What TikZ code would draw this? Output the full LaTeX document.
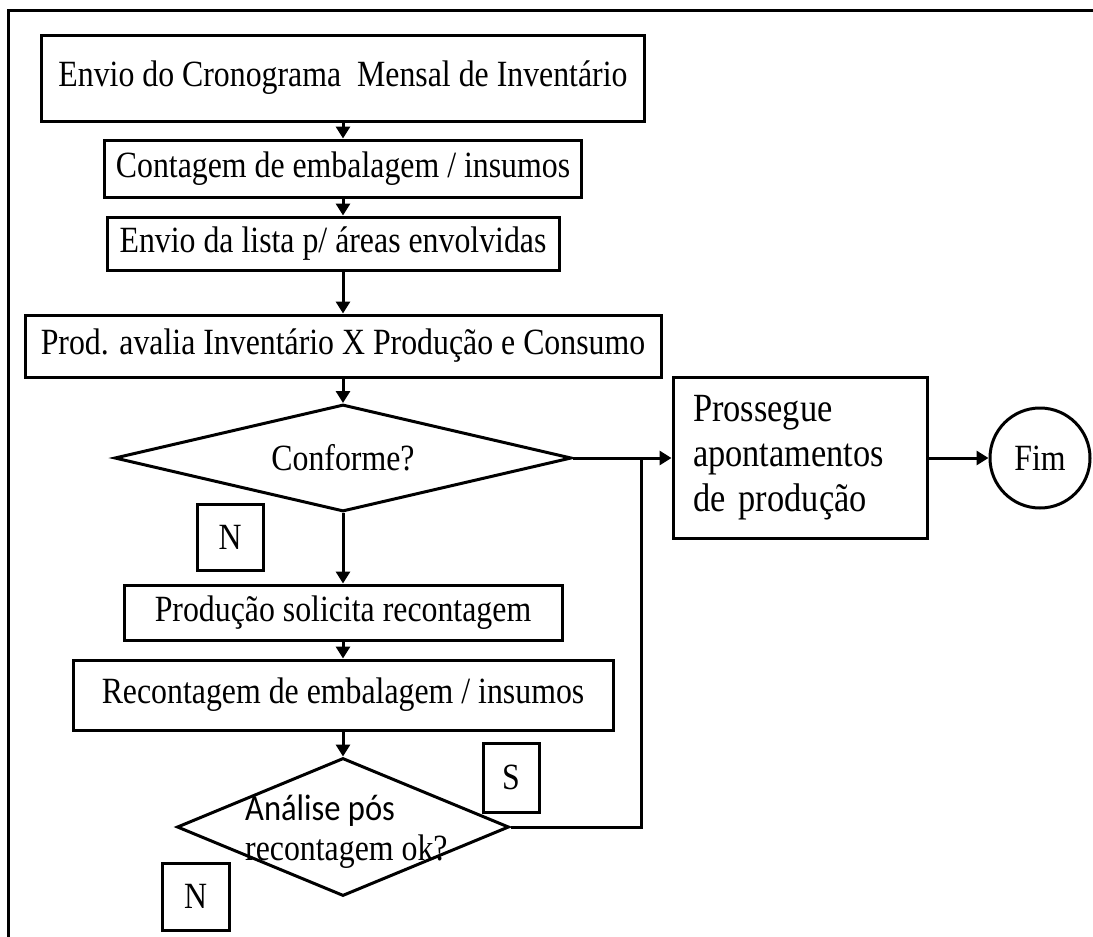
\documentclass[tikz,border=0pt]{standalone}
\usepackage{fontspec}
\setmainfont{Liberation Serif}[FakeStretch=0.86]
\newfontfamily\carlito{Carlito}[FakeStretch=0.88]
\usetikzlibrary{shapes.geometric, arrows.meta, positioning}

\begin{document}
\begin{tikzpicture}[x=1pt, y=-1pt,
	every node/.style={font=\fontsize{37}{40}\selectfont, inner sep=0pt},
	box/.style={draw, line width=3pt, rectangle},
	decision/.style={draw, line width=3pt, diamond},
	letra/.style={draw, line width=3pt, minimum width=66pt, minimum height=66pt},
	seta/.style={line width=3pt, -{Triangle[length=12pt, width=14pt]}}]
			\useasboundingbox (0,0) rectangle (1093,937);
			\draw[line width=3pt] (8,937) -- (8,10) -- (1093,10);
			% coluna principal
			\node[box, minimum width=603pt, minimum height=86pt] (env) at (343,78) {Envio do Cronograma~ Mensal de Inventário};
			\node[box, minimum width=477pt, minimum height=57pt] (cont) at (343,168.5) {Contagem de embalagem / insumos};
			\node[box, minimum width=452pt, minimum height=53pt] (lista) at (333,243.5) {Envio da lista p/ áreas envolvidas};
			\node[box, minimum width=636pt, minimum height=62pt] (aval) at (343,346) {Prod. avalia Inventário X Produção e Consumo};
			\node[decision, minimum width=457pt, minimum height=107pt, shape aspect=4.3] (conf) at (343,458) {Conforme?};
			\node[box, minimum width=438pt, minimum height=55pt] (solic) at (343,612.5) {Produção solicita recontagem};
			\node[box, minimum width=540pt, minimum height=70pt] (recont) at (343,695) {Recontagem de embalagem / insumos};
			\node[decision, minimum width=332pt, minimum height=138pt, shape aspect=2.4] (anal) at (343,827) {};
			\node[align=left, anchor=west] (analtxt) at (245,832) {{\carlito Análise pós}\\recontagem ok?};
			% lado direito
			\node[box, minimum width=254pt, minimum height=161pt, text width=214pt, align=left,
				font=\fontsize{40}{45}\selectfont] (pros) at (800,458) {Prossegue\\apontamentos\\de produção};
			\node[draw, circle, line width=3pt, minimum size=100pt] (fim) at (1040,458) {Fim};
			\coordinate (junc) at (641,458);
			% rotulos
			\node[letra] (n1) at (230,537.5) {N};
			\node[letra, minimum width=56pt, minimum height=69pt] (s) at (511,777.5) {S};
			\node[letra, minimum width=67pt, minimum height=67pt] (n2) at (195.5,896.5) {N};
			% ligacoes
			\draw[seta] (env) -- (cont);
			\draw[seta] (cont) -- (cont |- lista.north);
			\draw[seta] (lista.south -| aval) -- (aval);
			\draw[seta] (aval) -- (conf);
			\draw[seta] (conf) -- (solic);
			\draw[seta] (solic) -- (recont);
			\draw[seta] (recont) -- (anal);
			\draw[seta] (conf.east) -- (pros.west);
			\draw[seta] (pros) -- (fim);
			\draw[line width=3pt] (anal.east) -| (junc);
		\end{tikzpicture}
\end{document}
